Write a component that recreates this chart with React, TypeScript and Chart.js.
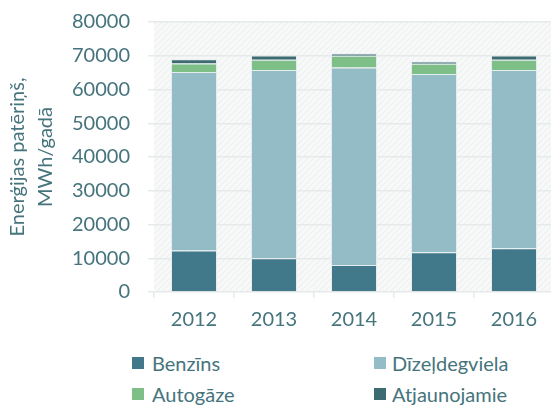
import React, { useEffect, useRef } from "react";
import { Chart, registerables } from "chart.js";

Chart.register(...registerables);

const years = ["2012", "2013", "2014", "2015", "2016"];
const benzins = [12300, 10000, 8000, 11800, 13000];
const dizeldegviela = [52900, 55800, 58500, 52800, 52800];
const autogaze = [2500, 3000, 3500, 3000, 3000];
const atjaunojamie = [1300, 1250, 700, 700, 1250];
const seriesNames = ["Benzīns", "Dīzeļdegviela", "Autogāze", "Atjaunojamie"];
const seriesColors = ["#41798b", "#93bcc6", "#7dbf86", "#3c6b72"];
const yTitle = ["Enerģijas patēriņš,", "MWh/gadā"];

const FONT = "Lato, 'DejaVu Sans', sans-serif";
const TEXT = "#45747c";

const bgPlugin = {
  id: "plotBg",
  beforeDraw(chart: any) {
    const { ctx, chartArea } = chart;
    if (!chartArea) return;
    const p = document.createElement("canvas");
    p.width = 6;
    p.height = 6;
    const pc = p.getContext("2d")!;
    pc.fillStyle = "#f7f8f8";
    pc.fillRect(0, 0, 6, 6);
    pc.strokeStyle = "#eceeee";
    pc.lineWidth = 1;
    pc.beginPath();
    pc.moveTo(0, 6);
    pc.lineTo(6, 0);
    pc.moveTo(-3, 3);
    pc.lineTo(3, -3);
    pc.moveTo(3, 9);
    pc.lineTo(9, 3);
    pc.stroke();
    const pat = ctx.createPattern(p, "repeat");
    ctx.save();
    ctx.fillStyle = pat;
    ctx.fillRect(chartArea.left, chartArea.top, chartArea.right - chartArea.left, chartArea.bottom - chartArea.top);
    ctx.restore();
  },
};

export default function App() {
  const ref = useRef<HTMLCanvasElement>(null);
  useEffect(() => {
    if (!ref.current) return;
    const data = [benzins, dizeldegviela, autogaze, atjaunojamie];
    const chart = new Chart(ref.current, {
      type: "bar",
      data: {
        labels: years,
        datasets: seriesNames.map((n, i) => ({
          label: n,
          data: data[i],
          backgroundColor: seriesColors[i],
          borderColor: "#e4ecee",
          borderWidth: 1,
          categoryPercentage: 1,
          barPercentage: 0.575,
        })),
      },
      options: {
        animation: false,
        responsive: false,
        maintainAspectRatio: false,
        layout: { padding: { top: 0, right: 2, left: 0, bottom: 0 } },
        plugins: { legend: { display: false }, tooltip: { enabled: false } },
        scales: {
          x: {
            stacked: true,
            offset: true,
            grid: { offset: true, drawOnChartArea: false, drawTicks: true, tickLength: 6, color: "#e6eaea", lineWidth: 1.5 },
            border: { display: false },
            ticks: { color: TEXT, font: { family: FONT, size: 20 }, padding: 10 },
            afterFit: (s: any) => { s.height = 48; },
          },
          y: {
            stacked: true,
            min: 0,
            max: 80000,
            grid: { drawTicks: true, tickLength: 6, color: "#e6eaea", lineWidth: 1.5 },
            border: { display: false },
            ticks: {
              stepSize: 10000,
              color: TEXT,
              font: { family: FONT, size: 20 },
              padding: 18,
              callback: (v: any) => String(v),
            },
            title: {
              display: true,
              text: yTitle,
              color: TEXT,
              font: { family: FONT, size: 20, lineHeight: 1.4 },
              padding: { top: 4, bottom: 0 },
            },
            afterFit: (s: any) => { s.width = 154; },
          },
        },
      },
      plugins: [bgPlugin],
    });
    return () => chart.destroy();
  }, []);

  return (
    <div style={{ position: "fixed", left: 0, top: 0, width: 551, height: 406, overflow: "hidden", background: "#fff" }}>
      <canvas ref={ref} width={556} height={348} style={{ position: "absolute", left: 0, top: -8, width: 556, height: 348 }} />
      {seriesNames.map((n, i) => {
        const col = i % 2;
        const row = Math.floor(i / 2);
        const left = col === 0 ? 132 : 374;
        const cy = row === 0 ? 363 : 394;
        return (
          <div key={n} style={{ position: "absolute", left, top: cy - 14, height: 28, display: "flex", alignItems: "center", fontFamily: FONT, fontSize: 20, color: TEXT, whiteSpace: "nowrap" }}>
            <span style={{ display: "inline-block", width: 12, height: 12, background: seriesColors[i], marginRight: col === 0 ? 8 : 6 }} />
            <span>{n}</span>
          </div>
        );
      })}
    </div>
  );
}
